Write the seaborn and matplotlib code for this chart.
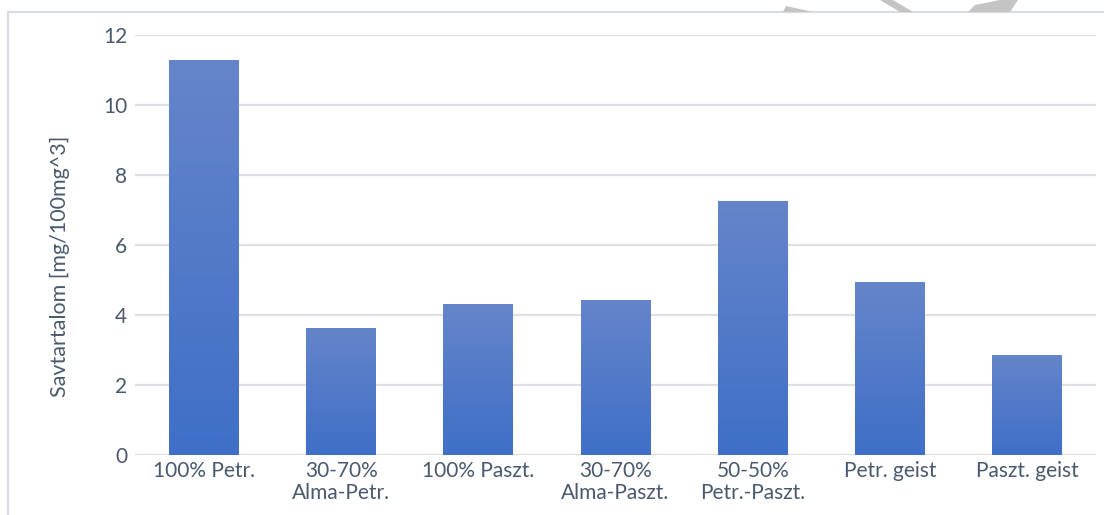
import numpy as np
import pandas as pd
import matplotlib
matplotlib.use("Agg")
import matplotlib.pyplot as plt
from matplotlib.patches import Rectangle, Polygon
from matplotlib.colors import LinearSegmentedColormap
import seaborn as sns

categories = ["100% Petr.", "30-70%\nAlma-Petr.", "100% Paszt.", "30-70%\nAlma-Paszt.",
              "50-50%\nPetr.-Paszt.", "Petr. geist", "Paszt. geist"]
values = [11.28, 3.63, 4.31, 4.43, 7.26, 4.94, 2.86]
y_ticks = [0, 2, 4, 6, 8, 10, 12]
y_label = "Savtartalom [mg/100mg^3]"

TEXT = "#4A596E"
GRID = "#DDE1E6"
TOP_C = "#6585CA"
BOT_C = "#3F6FC7"

sns.set_theme(style="white")
plt.rcParams["font.family"] = ["Lato", "DejaVu Sans"]

df = pd.DataFrame({"cat": categories, "val": values})

fig = plt.figure(figsize=(11.04, 5.15), dpi=100)
ax = fig.add_axes([0.1227, 0.1165, 0.8697, 0.8155])

sns.barplot(data=df, x="cat", y="val", ax=ax, width=0.51, color=BOT_C,
            saturation=1, zorder=3)

# vertical gradient fill inside each bar
cmap = LinearSegmentedColormap.from_list("bar", [BOT_C, TOP_C])
grad = np.linspace(0, 1, 256).reshape(-1, 1)
for p in ax.patches:
    x0, y0 = p.get_x(), p.get_y()
    w, h = p.get_width(), p.get_height()
    im = ax.imshow(grad, cmap=cmap, origin="lower", aspect="auto",
                   extent=[x0, x0 + w, y0, y0 + h], zorder=3)
    im.set_clip_path(p)
    p.set_facecolor("none")
    p.set_edgecolor("none")

ax.set_xlim(-0.5, len(categories) - 0.5)
ax.set_ylim(0, 12)
ax.set_yticks(y_ticks)
ax.yaxis.grid(True, color=GRID, linewidth=1.6, zorder=0)
ax.set_axisbelow(True)
for s in ax.spines.values():
    s.set_visible(False)
ax.tick_params(axis="both", length=0, labelsize=15, colors=TEXT)
ax.tick_params(axis="x", pad=4)
ax.tick_params(axis="y", pad=6)
ax.set_xlabel("")
ax.set_ylabel(y_label, fontsize=15.5, color=TEXT)
ax.yaxis.set_label_coords(-0.068, 0.45)
for t in ax.get_xticklabels():
    t.set_linespacing(1.15)

# outer chart frame
fig.patches.append(Rectangle((8 / 1104, -0.2), 1.2, 1.2 - 12 / 515,
                             transform=fig.transFigure, fill=False,
                             edgecolor="#D9DDE3", linewidth=1.6, zorder=0))

# grey strokes peeking above the frame
for pts in [
    [(783, 12), (786, 6), (813, 12)],
    [(880, 0), (893, 0), (913, 12), (900, 12)],
    [(968, 12), (975, 5), (990, 2), (1000, 0), (1018, 0), (1010, 12)],
]:
    fig.patches.append(Polygon([(x / 1104, 1 - y / 515) for x, y in pts],
                               closed=True, transform=fig.transFigure,
                               facecolor="#C4C4C4", edgecolor="none"))

fig.savefig("out.png", dpi=100)
